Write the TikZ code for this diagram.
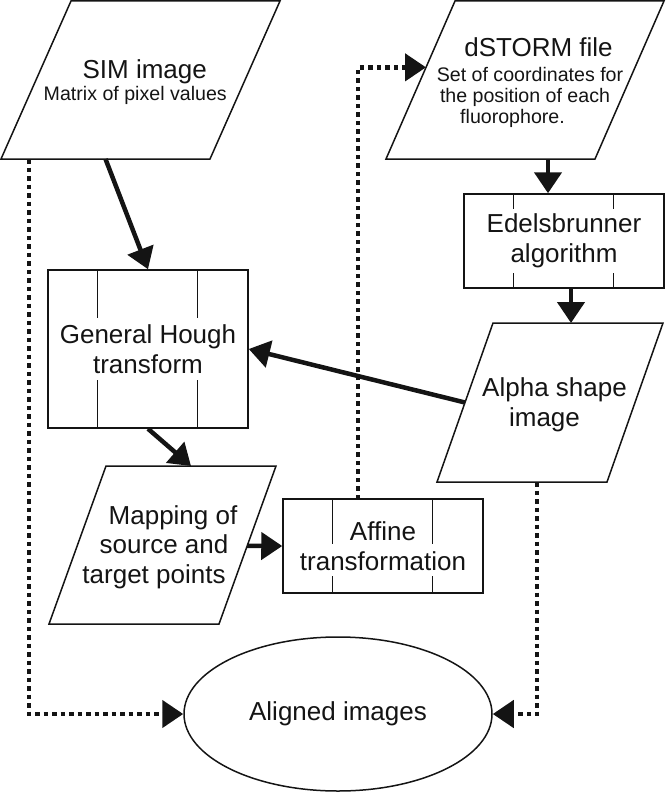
\documentclass[tikz,border=0pt]{standalone}
\usepackage{fontspec}
\setmainfont{Liberation Sans}
\usetikzlibrary{arrows.meta,shapes.geometric,calc}
\definecolor{ink}{gray}{0.08}
\newcommand\fbig{\fontsize{26}{30}\selectfont}
\newcommand\fsmall{\fontsize{19.6}{21}\selectfont}
\newcommand\fmap{\fontsize{26}{29.5}\selectfont}
\begin{document}
\begin{tikzpicture}[x=1pt,y=-1pt,
  frame/.style={draw=ink, line width=1.5pt},
  procbox/.style={frame, rectangle, minimum width=200pt, inner sep=0pt, align=center, font=\fbig, text=ink},
  para/.style={frame, line join=miter},
  txt/.style={inner sep=0pt, align=center, text=ink},
  sarrow/.style={draw=ink, line width=4.5pt, -{Triangle[length=21pt,width=27pt]}},
  darrow/.style={draw=ink, line width=4.5pt, dash pattern=on 4.5pt off 4pt, -{Triangle[length=21pt,width=27pt]}},
]
\useasboundingbox (0,0) rectangle (665,792);

% ---------- parallelograms ----------
\coordinate (simTL) at (71,1);   \coordinate (simTR) at (280,1);
\coordinate (simBR) at (210,159); \coordinate (simBL) at (1,159);
\draw[para] (simTL) -- (simTR) -- (simBR) -- (simBL) -- cycle;
\node[txt, font=\fsmall] (simtext) at (140,82.5)
  {{\fbig\hspace*{9.5pt}SIM image}\\[1pt]Matrix of pixel values\hspace*{9.5pt}};

\coordinate (dsTL) at (455,1);   \coordinate (dsTR) at (664,1);
\coordinate (dsBR) at (595,159); \coordinate (dsBL) at (386,159);
\draw[para] (dsTL) -- (dsTR) -- (dsBR) -- (dsBL) -- cycle;
\node[txt, font=\fsmall] (dstext) at (525,83)
  {{\fbig\hspace*{27pt}dSTORM file}\\[4pt]\hspace*{10pt}Set of coordinates for\\the position of each\hspace*{10pt}\\fluorophore.\hspace*{25pt}};

\coordinate (mapTL) at (106,466); \coordinate (mapTR) at (276,466);
\coordinate (mapBR) at (219,624); \coordinate (mapBL) at (49,624);
\draw[para] (mapTL) -- (mapTR) -- (mapBR) -- (mapBL) -- cycle;
\node[txt, font=\fmap] (maptext) at (162.5,547)
  {\hspace*{21pt}Mapping of\\\hspace*{3pt}source and\\target points\hspace*{17pt}};

\coordinate (alphaTL) at (493,323); \coordinate (alphaTR) at (663,323);
\coordinate (alphaBR) at (607,482); \coordinate (alphaBL) at (437,482);
\draw[para] (alphaTL) -- (alphaTR) -- (alphaBR) -- (alphaBL) -- cycle;
\node[txt, font=\fbig] (alphatext) at (550,405)
  {\hspace*{9pt}Alpha shape\\image\hspace*{11pt}};

% ---------- process boxes ----------
\node[procbox, minimum height=158pt] (hough) at (148,349) {General Hough\\transform};
\node[procbox, minimum height=94pt] (edel) at (564,241) {Edelsbrunner\\algorithm};
\node[procbox, minimum height=94pt] (affine) at (383,546) {Affine\\transformation};

\foreach \dx in {50,150}{
  \draw[frame] ($(hough.north west)+(\dx,0)$) -- ++(0,49);
  \draw[frame] ($(hough.south west)+(\dx,0)$) -- ++(0,-49);
  \draw[frame] ($(edel.north west)+(\dx,0)$) -- ++(0,16);
  \draw[frame] ($(edel.south west)+(\dx,0)$) -- ++(0,-16);
  \draw[frame] ($(affine.north west)+(\dx,0)$) -- ++(0,46);
  \draw[frame] ($(affine.south west)+(\dx,0)$) -- ++(0,-18);
}

% ---------- terminal ----------
\node[frame, ellipse, minimum width=308pt, minimum height=154pt, inner sep=0pt, font=\fbig, text=ink]
  (aligned) at (338,714) {Aligned images};

% ---------- connection points ----------
\coordinate (simS) at ($(simBL)!0.5!(simBR)$);
\coordinate (simD) at (29,159);
\coordinate (dsS) at (548,159);
\coordinate (dsIn) at ($(dsBL)!0.58!(dsTL)$);
\coordinate (mapN) at ($(mapTL)!0.5!(mapTR)$);
\coordinate (mapE) at ($(mapBR)!0.494!(mapTR)$);
\coordinate (alphaN) at (571,323);
\coordinate (alphaW) at ($(alphaBL)!0.5!(alphaTL)$);
\coordinate (alphaD) at (537,482);
\coordinate (affU) at (358,499);

% ---------- solid connectors ----------
\draw[sarrow] (simS) -- (hough.north);
\draw[sarrow] (dsS) -- (dsS |- edel.north);
\draw[sarrow] (alphaN |- edel.south) -- (alphaN);
\draw[sarrow] (alphaW) -- (hough.east);
\draw[sarrow] (hough.south) -- (mapN);
\draw[sarrow] (mapE) -- (affine.west);

% ---------- dotted connectors ----------
\draw[darrow] (simD) |- (aligned.west);
\draw[darrow] (alphaD) |- (aligned.east);
\draw[darrow] (affU) |- (dsIn);
\end{tikzpicture}
\end{document}
